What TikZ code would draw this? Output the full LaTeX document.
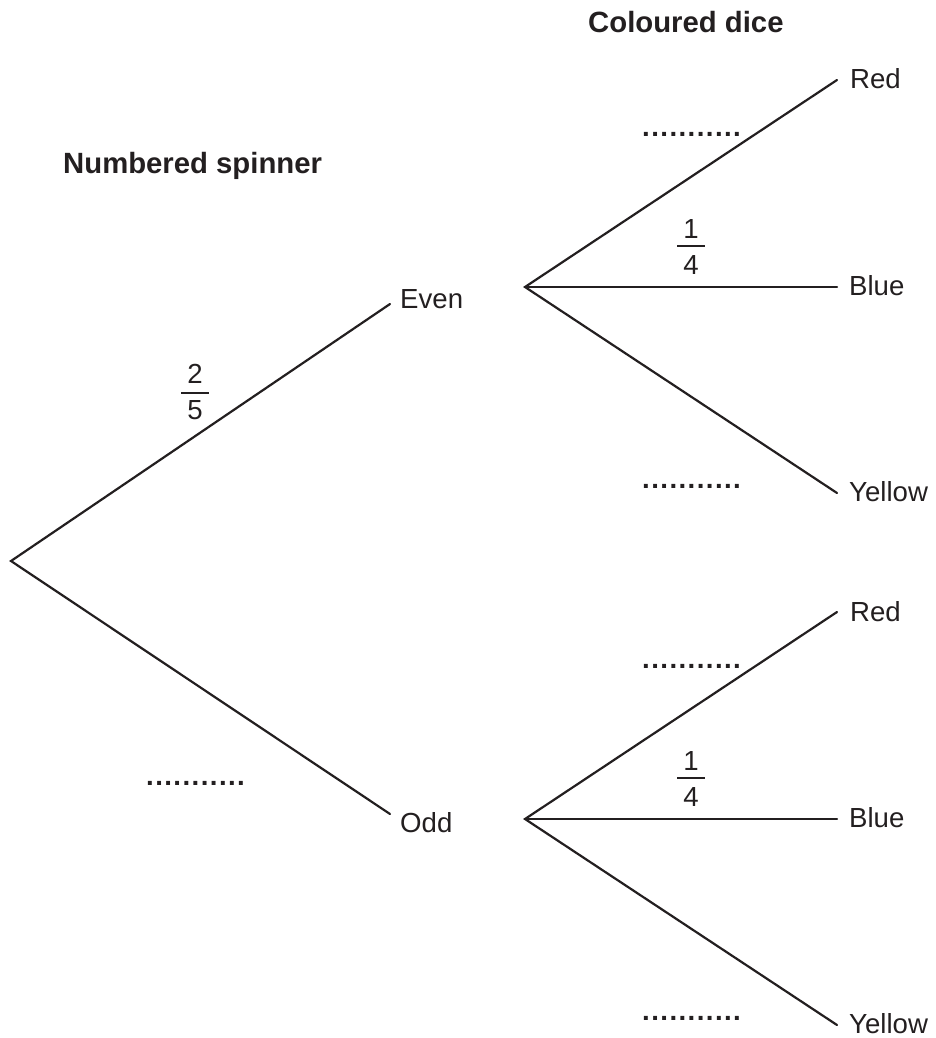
\documentclass[tikz,border=0pt]{standalone}
\usepackage{fontspec}
\setmainfont{Liberation Sans}
\definecolor{ink}{HTML}{231F20}
\newcommand{\dotrow}{\foreach \i in {1,...,11}{\makebox[9.1pt][l]{.}}}
\begin{document}
\begin{tikzpicture}[x=1pt,y=-1pt,
  lbl/.style={anchor=base west,inner sep=0pt,text=ink,font=\fontsize{27.6}{33}\selectfont},
  ttl/.style={anchor=base west,inner sep=0pt,text=ink,font=\fontsize{29.3}{35}\selectfont\bfseries},
  num/.style={anchor=base,inner sep=0pt,text=ink,font=\fontsize{27.6}{33}\selectfont},
  dots/.style={anchor=base west,inner sep=0pt,text=ink,font=\fontsize{27.6}{33}\selectfont\bfseries},
  branch/.style={draw=ink,line width=2.2pt,line cap=round,line join=miter},
  bar/.style={draw=ink,line width=1.6pt}]
\useasboundingbox (0,0) rectangle (935,1038);
% titles
\node[ttl] (tspin) at (63,173) {Numbered spinner};
\node[ttl] (tdice) at (588,33) {Coloured dice};
% coordinates
\coordinate (root) at (11,561);
\coordinate (eEnd) at (390,304);
\coordinate (oEnd) at (390,814);
\coordinate (eB) at (525,287);
\coordinate (oB) at (525,819);
\coordinate (eR) at (837,80);
\coordinate (eBl) at (837,287);
\coordinate (eY) at (837,493);
\coordinate (oR) at (837,612);
\coordinate (oBl) at (837,819);
\coordinate (oY) at (837,1025);
% labels
\node[lbl] (even) at (400,308) {Even};
\node[lbl] (odd) at (400,832) {Odd};
\node[lbl] (red1) at (850,89) {Red};
\node[lbl] (blue1) at (849,295) {Blue};
\node[lbl] (yel1) at (849,501) {Yellow};
\node[lbl] (red2) at (850,621) {Red};
\node[lbl] (blue2) at (849,827) {Blue};
\node[lbl] (yel2) at (849,1033) {Yellow};
% branches
\draw[branch] (eEnd) -- (root) -- (oEnd);
\draw[branch] (eR) -- (eB) -- (eY);
\draw[branch] (eB) -- (eBl);
\draw[branch] (oR) -- (oB) -- (oY);
\draw[branch] (oB) -- (oBl);
% fractions
\node[num] (n25) at (195,383) {2};
\node[num] (d25) at (195,419) {5};
\draw[bar] (181,393) -- (209,393);
\node[num] (n14a) at (691,238) {1};
\node[num] (d14a) at (691,274) {4};
\draw[bar] (677,246) -- (705,246);
\node[num] (n14b) at (691,770) {1};
\node[num] (d14b) at (691,806) {4};
\draw[bar] (677,778) -- (705,778);
% dotted answer spaces
\node[dots] (dER) at (642,136) {\dotrow};
\node[dots] (dEY) at (642,488) {\dotrow};
\node[dots] (dOR) at (642,668) {\dotrow};
\node[dots] (dOY) at (642,1020) {\dotrow};
\node[dots] (dOdd) at (146,785) {\dotrow};
\end{tikzpicture}
\end{document}
